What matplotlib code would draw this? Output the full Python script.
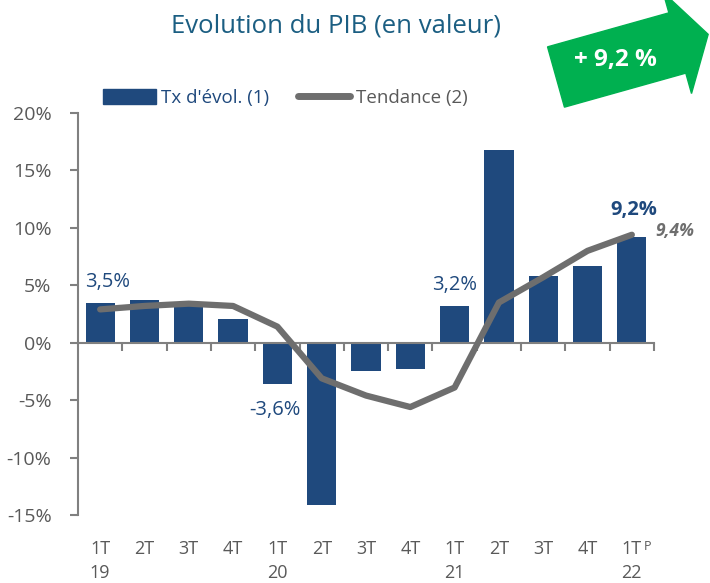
import matplotlib
matplotlib.use("Agg")
import matplotlib.pyplot as plt
import numpy as np
from matplotlib.patches import Polygon
from matplotlib.lines import Line2D
from matplotlib.patches import Patch

plt.rcParams["font.family"] = ["Open Sans", "DejaVu Sans"]

# Données
quarters = ["1T", "2T", "3T", "4T", "1T", "2T", "3T", "4T",
            "1T", "2T", "3T", "4T", "1T"]
years = ["19", "", "", "", "20", "", "", "", "21", "", "", "", "22"]
growth = [3.5, 3.7, 3.5, 2.1, -3.6, -14.1, -2.5, -2.3,
          3.2, 16.8, 5.8, 6.7, 9.2]
trend = [2.9, 3.2, 3.4, 3.2, 1.4, -3.1, -4.6, -5.6,
         -3.9, 3.5, 5.7, 8.0, 9.4]
yticks = [-15, -10, -5, 0, 5, 10, 15, 20]

BLUE = "#1f497d"
GREY = "#6e6e6e"
TEXT_GREY = "#595959"
W, H = 710, 583

fig = plt.figure(figsize=(W / 100, H / 100), dpi=100)
ax = fig.add_axes([78 / W, 1 - 515 / H, (654 - 78) / W, (515 - 113) / H])

x = np.arange(len(growth))
ax.bar(x, growth, width=0.66, color=BLUE, zorder=2)
ax.plot(x, trend, color=GREY, lw=4.5, solid_capstyle="round",
        solid_joinstyle="round", zorder=3)

ax.set_xlim(-0.5, len(growth) - 0.5)
ax.set_ylim(-15, 20)
ax.set_yticks(yticks)
ax.set_yticklabels([f"{v}%" for v in yticks], color=TEXT_GREY, fontsize=14)
ax.tick_params(axis="y", length=6, width=1.5, color="#808080", pad=13)

for side in ["top", "right"]:
    ax.spines[side].set_visible(False)
ax.spines["left"].set_color("#808080")
ax.spines["left"].set_linewidth(1.5)
ax.spines["bottom"].set_position(("data", 0))
ax.spines["bottom"].set_color("#808080")
ax.spines["bottom"].set_linewidth(1.5)
ax.set_xticks(np.arange(0.5, len(growth), 1.0))
ax.set_xticklabels([])
ax.tick_params(axis="x", length=6, width=1.5, color="#808080",
               direction="out")

# étiquettes de l'axe x
trans = ax.get_xaxis_transform()
for i, (q, yr) in enumerate(zip(quarters, years)):
    ax.text(i, -0.084, q, transform=trans, ha="center", va="center",
            color=TEXT_GREY, fontsize=13)
    if yr:
        ax.text(i, -0.144, yr, transform=trans, ha="center", va="center",
                color=TEXT_GREY, fontsize=13)
ax.text(len(growth) - 1 + 0.36, -0.078, "P", transform=trans, ha="center",
        va="center", color=TEXT_GREY, fontsize=9)

# étiquettes de valeurs
ax.text(0.17, growth[0] + 0.95, "3,5%", ha="center", va="bottom",
        color=BLUE, fontsize=14.5)
ax.text(3.95, growth[4] - 1.4, "-3,6%", ha="center", va="top",
        color=BLUE, fontsize=14.5)
ax.text(8.0, growth[8] + 0.95, "3,2%", ha="center", va="bottom",
        color=BLUE, fontsize=14.5)
ax.text(12.05, growth[12] + 1.5, "9,2%", ha="center", va="bottom",
        color=BLUE, fontsize=14.5, fontweight="bold")
ax.text(12.52, trend[12] + 0.3, "9,4%", ha="left", va="center",
        color=GREY, fontsize=12.5, fontweight="bold", fontstyle="italic")

# légende
handles = [Patch(color=BLUE, label="Tx d'évol. (1)"),
           Line2D([], [], color=GREY, lw=5, solid_capstyle="round",
                  label="Tendance (2)")]
leg = fig.legend(handles=handles, loc="center left",
                 bbox_to_anchor=(90 / W, 1 - 98 / H), ncol=2, frameon=False,
                 fontsize=13.5, handlelength=2.8, handletextpad=0.3,
                 columnspacing=1.5, handleheight=0.85, borderpad=0.2)
leg.get_texts()[0].set_color(BLUE)
leg.get_texts()[1].set_color(TEXT_GREY)

# titre
fig.text(336 / W, 1 - 26 / H, "Evolution du PIB (en valeur)", ha="center",
         va="center", color="#1b5e82", fontsize=18.5)

# flèche verte
center = np.array([556.0, 77.0])
direction = np.array([0.963, -0.27])
normal = np.array([0.27, 0.963])
half_w, head_w, shaft_len, head_len = 31.3, 52.5, 126.0, 32.0
pts = [center - normal * half_w,
       center - normal * half_w + direction * shaft_len,
       center - normal * head_w + direction * shaft_len,
       center + direction * (shaft_len + head_len),
       center + normal * head_w + direction * shaft_len,
       center + normal * half_w + direction * shaft_len,
       center + normal * half_w]
pts = [(p[0] / W, 1 - p[1] / H) for p in pts]
arrow = Polygon(pts, closed=True, color="#00b050",
                transform=fig.transFigure)
fig.patches.append(arrow)
fig.text(615 / W, 1 - 60 / H, "+ 9,2 %", ha="center", va="center",
         color="white", fontsize=17.5, fontweight="bold")

fig.savefig("out.png", dpi=100)
